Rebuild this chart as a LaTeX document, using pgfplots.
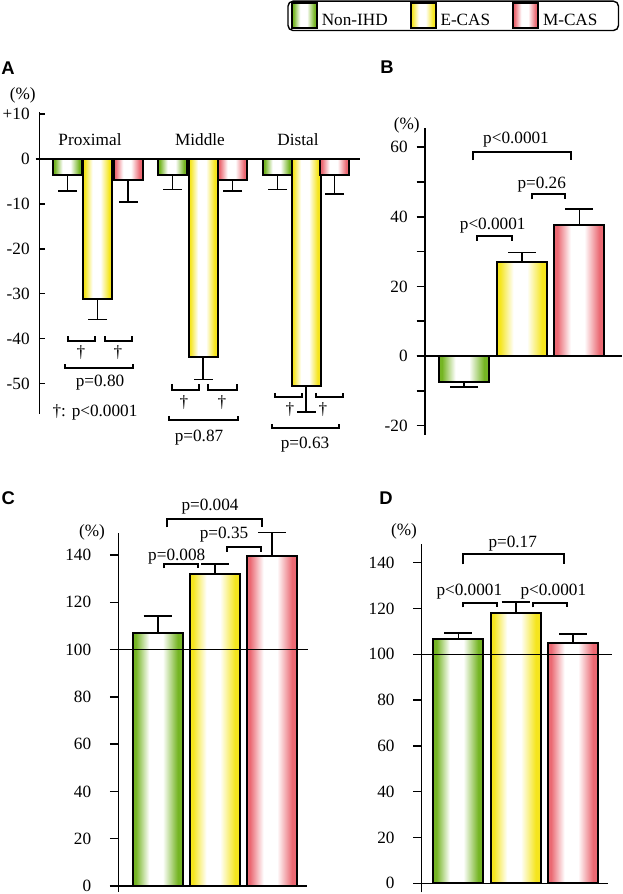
\documentclass[border=0pt]{standalone}
\usepackage{fontspec}
\setmainfont{Liberation Serif}
\newfontfamily\lsans{Liberation Sans}
\usepackage{pgfplots}
\pgfplotsset{compat=1.18}
\definecolor{cg}{rgb}{0.46,0.71,0.14}
\definecolor{cy}{rgb}{0.96,0.90,0.12}
\definecolor{cr}{rgb}{0.92,0.41,0.45}
\pgfdeclarehorizontalshading{gshade}{100bp}{color(0bp)=(cg); color(28bp)=(cg); color(41.5bp)=(white); color(55bp)=(white); color(70bp)=(cg); color(100bp)=(cg)}
\pgfdeclarehorizontalshading{yshade}{100bp}{color(0bp)=(cy); color(28bp)=(cy); color(41.5bp)=(white); color(55bp)=(white); color(70bp)=(cy); color(100bp)=(cy)}
\pgfdeclarehorizontalshading{rshade}{100bp}{color(0bp)=(cr); color(28bp)=(cr); color(41.5bp)=(white); color(55bp)=(white); color(70bp)=(cr); color(100bp)=(cr)}
\pgfplotsset{
  panel/.style={scale only axis, anchor=south west, clip=false,
    axis x line=none, axis y line*=left, xtick=\empty,
    axis line style={line width=0.75pt,-},
    tick style={line width=0.75pt,black},
    yticklabel style={inner sep=0pt}},
  % narrow bars of panel A (errors point down)
  bA/.style={ybar, bar shift=0pt, bar width=29, draw=black, line width=1pt, shade, shading=#1,
    error bars/y dir=minus, error bars/y explicit,
    error bars/error bar style={line width=0.8pt,black},
    error bars/error mark options={rotate=90,line width=0.8pt,black,mark size=4.75pt}},
  % wide bars of panels B, C, D
  bW/.style 2 args={ybar, bar shift=0pt, bar width=50, draw=black, line width=1pt, shade, shading=#1,
    error bars/y dir=#2, error bars/y explicit,
    error bars/error bar style={line width=0.8pt,black},
    error bars/error mark options={rotate=90,line width=0.8pt,black,mark size=7pt}},
}
\tikzset{br/.style={line width=1pt}, zl/.style={line width=0.75pt}}
\begin{document}
\fontsize{8.6}{10}\selectfont
\begin{tikzpicture}
\useasboundingbox (0pt,0pt) rectangle (311pt,447pt);
% ---------------- Panel A ----------------
\begin{axis}[panel, at={(19.85pt,240pt)}, width=160.15pt, height=151pt,
  xmin=39.7, xmax=360, ymin=-56.8, ymax=10.5,
  tick align=inside, major tick length=2.4pt,
  ytick={-50,-40,-30,-20,-10,0,10},
  yticklabels={-50,-40,-30,-20,-10,0,+10},
  yticklabel style={xshift=-4.85pt},
  legend columns=3,
  legend style={at={(axis description cs:0.7730,1.3692)}, anchor=north west,
    draw=black, line width=0.7pt, rounded corners=2.5pt, inner xsep=1.5pt, inner ysep=0.3pt,
    nodes={inner ysep=1pt},
    /tikz/every even column/.append style={column sep=9pt}},
  legend entries={Non-IHD,E-CAS,M-CAS\hspace*{7pt}},
]
% Proximal (legend images)
\addplot[bA=gshade, legend image code/.code={\draw[sharp corners, line width=0.9pt, shade, shading=gshade] (0pt,-3.4pt) rectangle (12.5pt,9.1pt);}]
  coordinates {(67.5,-3.6) -= (0,3.5)};
\addplot[bA=yshade, legend image code/.code={\draw[sharp corners, line width=0.9pt, shade, shading=yshade] (0pt,-3.4pt) rectangle (12.5pt,9.1pt);}]
  coordinates {(97.5,-31.2) -= (0,4.5)};
\addplot[bA=rshade, legend image code/.code={\draw[sharp corners, line width=0.9pt, shade, shading=rshade] (0pt,-3.4pt) rectangle (12.5pt,9.1pt);}]
  coordinates {(128,-4.7) -= (0,4.9)};
% Middle
\addplot[bA=gshade, forget plot] coordinates {(172.5,-3.6) -= (0,3.2)};
\addplot[bA=yshade, forget plot] coordinates {(203,-44.0) -= (0,5.1)};
\addplot[bA=rshade, forget plot] coordinates {(232.5,-4.7) -= (0,2.4)};
% Distal
\addplot[bA=gshade, forget plot] coordinates {(277.5,-3.6) -= (0,3.2)};
\addplot[bA=yshade, forget plot] coordinates {(306,-50.6) -= (0,5.8)};
\addplot[bA=rshade, forget plot] coordinates {(334.5,-3.6) -= (0,4.2)};
\draw[zl] (35.7,0) -- (360,0);
\node at (90,4.45) {Proximal};
\node at (200,4.45) {Middle};
\node at (298,4.45) {Distal};
\node at (22.7,14.25) {(\%)};
\draw[br] (68,-39.42) |- (95,-40.53) -- (95,-39.42);
\draw[br] (105,-39.42) |- (132,-40.53) -- (132,-39.42);
\node at (81,-43.2) {\textdagger};
\node at (118,-43.2) {\textdagger};
\draw[br] (65,-45.66) |- (133,-46.55) -- (133,-45.66);
\node at (100,-49.9) {p=0.80};
\node at (95,-56.35) {\textdagger: p<0.0001};
\draw[br] (172,-50.11) |- (199,-51.45) -- (199,-50.11);
\draw[br] (208,-50.11) |- (237,-51.45) -- (237,-50.11);
\node at (184,-54.34) {\textdagger};
\node at (222,-54.34) {\textdagger};
\draw[br] (169,-57.24) |- (238,-58.13) -- (238,-57.24);
\node at (199,-62.14) {p=0.87};
\draw[br] (275,-52.12) |- (302,-53.0) -- (302,-52.12);
\draw[br] (316,-52.12) |- (343,-53.0) -- (343,-52.12);
\node at (290,-55.9) {\textdagger};
\node at (323,-55.9) {\textdagger};
\draw[br] (272,-59.02) |- (339,-59.91) -- (339,-59.02);
\node at (305,-63.7) {p=0.63};
\end{axis}
% ---------------- Panel B ----------------
\begin{axis}[panel, at={(212.5pt,229.5pt)}, width=98.5pt, height=153.45pt,
  xmin=425, xmax=622, ymin=-22.7, ymax=65.5,
  tick align=outside, major tick length=4.2pt, minor tick length=4.2pt,
  ytick={-20,0,20,40,60}, yticklabels={-20,0,20,40,60},
  minor ytick={-10,10,30,50},
  yticklabel style={xshift=-4.3pt},
]
\addplot[bW={gshade}{minus}] coordinates {(464,-7.4) -= (0,1.5)};
\addplot[bW={yshade}{plus}] coordinates {(522,27.0) += (0,2.8)};
\addplot[bW={rshade}{plus}] coordinates {(579.3,37.6) += (0,4.6)};
\draw[zl] (416.7,0) -- (622,0);
\draw[br] (477.3,33.13) |- (511.7,34.48) -- (511.7,33.13);
\node at (492.7,37.56) {p<0.0001};
\draw[br] (531.7,45.03) |- (565,46.47) -- (565,45.03);
\node at (541.7,49.34) {p=0.26};
\draw[br] (473.3,56.32) |- (570.7,58.71) -- (570.7,56.32);
\node at (516,62.27) {p<0.0001};
\node at (406.7,66.38) {(\%)};
\end{axis}
% ---------------- Panel C ----------------
\begin{axis}[panel, at={(59.15pt,1.15pt)}, width=94.85pt, height=179.3pt,
  xmin=118.3, xmax=308, ymin=-2.4, ymax=149.3,
  tick align=outside, major tick length=4.2pt,
  ytick={0,20,40,60,80,100,120,140}, yticklabels={0,20,40,60,80,100,120,140},
  yticklabel style={xshift=-9.2pt},
]
\addplot[bW={gshade}{plus}] coordinates {(157.7,106.9) += (0,7.3)};
\addplot[bW={yshade}{plus}] coordinates {(215,131.8) += (0,4.4)};
\addplot[bW={rshade}{plus}] coordinates {(272,139.7) += (0,9.8)};
\draw[zl] (110,0) -- (306.7,0);
\draw[zl] (118.3,100) -- (308,100);
\draw[br] (164.3,134.39) |- (198.3,136.21) -- (198.3,134.39);
\node at (176.7,139.3) {p=0.008};
\draw[br] (226.7,141.41) |- (260.7,143.27) -- (260.7,141.41);
\node at (224,148.48) {p=0.35};
\draw[br] (167.3,151.73) |- (261.7,155.12) -- (261.7,151.73);
\node at (210,160.45) {p=0.004};
\node at (92,149.62) {(\%)};
\end{axis}
% ---------------- Panel D ----------------
\begin{axis}[panel, at={(210.85pt,0.75pt)}, width=95.15pt, height=174.3pt,
  xmin=421.7, xmax=612, ymin=-4, ymax=148.2,
  tick align=outside, major tick length=4.2pt,
  ytick={0,20,40,60,80,100,120,140}, yticklabels={0,20,40,60,80,100,120,140},
  yticklabel style={xshift=-9.2pt},
]
\addplot[bW={gshade}{plus}] coordinates {(458.3,106.6) += (0,2.8)};
\addplot[bW={yshade}{plus}] coordinates {(515.7,118.2) += (0,4.6)};
\addplot[bW={rshade}{plus}] coordinates {(573,104.8) += (0,4.1)};
\draw[zl] (415,0) -- (608.3,0);
\draw[zl] (421.7,100) -- (611.7,100);
\draw[br] (462.7,120.52) |- (496.7,122.53) -- (496.7,120.52);
\node at (469.3,127.34) {p<0.0001};
\draw[br] (532.7,120.52) |- (566.7,122.53) -- (566.7,120.52);
\node at (553.3,127.34) {p<0.0001};
\draw[br] (462.7,139.3) |- (564,143.67) -- (564,139.3);
\node at (512.7,148.17) {p=0.17};
\node at (404,153.54) {(\%)};
\end{axis}
% panel letters
\node[font=\lsans\bfseries\fontsize{9.2}{11}\selectfont] at (4pt,413pt) {A};
\node[font=\lsans\bfseries\fontsize{9.2}{11}\selectfont] at (193.5pt,413.35pt) {B};
\node[font=\lsans\bfseries\fontsize{9.2}{11}\selectfont] at (4.15pt,197.85pt) {C};
\node[font=\lsans\bfseries\fontsize{9.2}{11}\selectfont] at (193pt,197.85pt) {D};
\end{tikzpicture}
\end{document}
